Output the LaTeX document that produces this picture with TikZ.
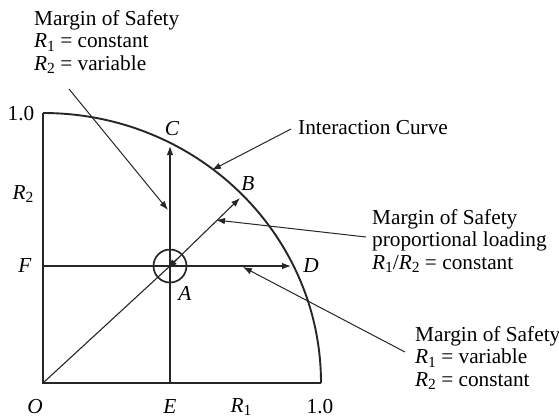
\documentclass[tikz,border=0pt]{standalone}
\usepackage{fontspec}
\setmainfont{Liberation Serif}
\usetikzlibrary{arrows.meta}
\newcommand\Rsub[1]{\textit{R}\raisebox{-0.35ex}{\fontsize{15.5}{15.5}\selectfont #1}}
\begin{document}
\begin{tikzpicture}[x=1pt,y=-1pt,
  lbl/.style={inner sep=0pt,font=\fontsize{21.3}{22}\selectfont},
  blk/.style={inner sep=0pt,align=left,anchor=west,font=\fontsize{21.3}{22.5}\selectfont},
  axis/.style={line width=1.9pt,color=black!85},
  thin/.style={line width=1.1pt,color=black!85},
  arr/.style={thin,-{Latex[length=9pt,width=6.5pt]}},
  ptr/.style={line width=1pt,color=black!85,-{Latex[length=9pt,width=6.5pt]}}]
\useasboundingbox (0,0) rectangle (559,418);
% key points
\coordinate (O) at (43,383);
\coordinate (T) at (43,113);
\coordinate (X) at (321,383);
\coordinate (E) at (170,383);
\coordinate (F) at (43,266);
\coordinate (A) at (170,266);
\coordinate (C) at (170,146);
\coordinate (B) at (240,198);
\coordinate (D) at (291,266);
% axes and curve
\draw[axis] (X) -- (O) -- (T);
\draw[axis] (T) arc[start angle=-90,end angle=0,x radius=278,y radius=270];
% internal lines
\draw[thin] (O) -- (A);
\draw[thin] (E) -- (A);
\draw[thin] (F) -- (A);
\draw[arr] (A) -- (C);
\draw[arr] (A) -- (B);
\draw[arr] (A) -- (D);
\draw[line width=1.7pt,color=black!85] (A) circle[radius=16.5];
\draw[thin,-{Latex[length=9pt,width=7pt]}] (177,259) -- (168,268);
% pointer targets
\coordinate (pC) at (168,210);
\coordinate (pI) at (212,170);
\coordinate (pB) at (216,220);
\coordinate (pD) at (243,267);
% labels
\node[lbl] (l10y) at (21,114) {1.0};
\node[lbl] (lR2) at (23,194) {\Rsub{2}};
\node[lbl] (lF) at (25,266) {\textit{F}};
\node[lbl] (lO) at (35,407) {\textit{O}};
\node[lbl] (lE) at (170,407) {\textit{E}};
\node[lbl] (lR1) at (241,407) {\Rsub{1}};
\node[lbl] (l10x) at (320,407) {1.0};
\node[lbl] (lC) at (172,129) {\textit{C}};
\node[lbl] (lB) at (248,184) {\textit{B}};
\node[lbl] (lD) at (311,266) {\textit{D}};
\node[lbl] (lA) at (185,293) {\textit{A}};
% text blocks
\node[blk] (t1) at (34,42) {Margin of Safety\\ \Rsub{1} = constant\\ \Rsub{2} = variable};
\node[blk] (t2) at (298,128) {Interaction Curve};
\node[blk] (t3) at (372,241) {Margin of Safety\\ proportional loading\\ \Rsub{1}/\Rsub{2} = constant};
\node[blk] (t4) at (415,358) {Margin of Safety\\ \Rsub{1} = variable\\ \Rsub{2} = constant};
% pointers
\coordinate (s1) at (69,89);
\coordinate (s2) at (291,129);
\coordinate (s3) at (366,237);
\coordinate (s4) at (405,352);
\draw[ptr] (s1) -- (pC);
\draw[ptr] (s2) -- (pI);
\draw[ptr] (s3) -- (pB);
\draw[ptr] (s4) -- (pD);
\end{tikzpicture}
\end{document}
